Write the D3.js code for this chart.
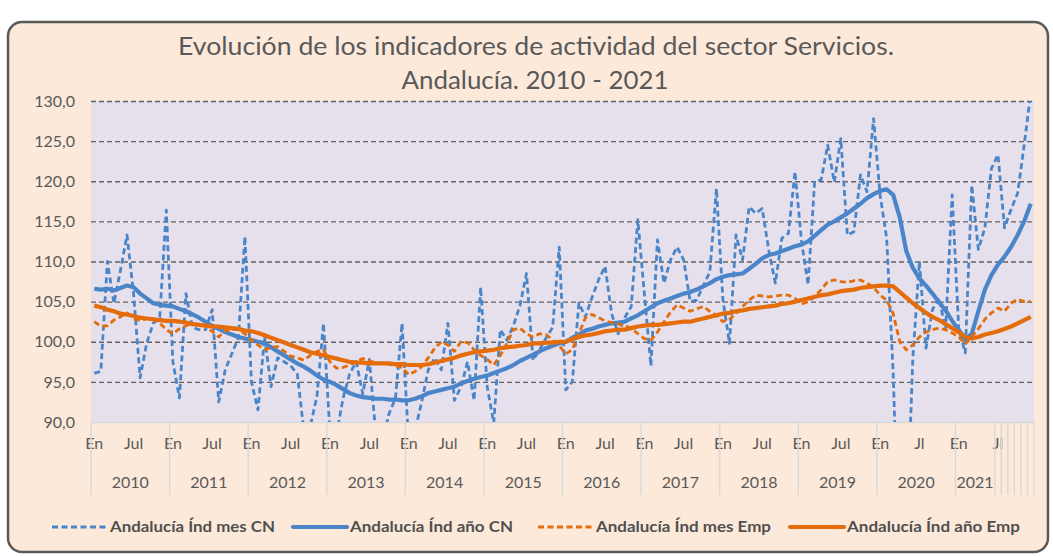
<!DOCTYPE html>
<html><head><meta charset="utf-8">
<script src="https://cdn.jsdelivr.net/npm/d3@7"></script>
<style>html,body{margin:0;padding:0;background:#fff;} svg{display:block;}</style>
</head><body>
<svg id="chart" width="1053" height="557"></svg>
<script>
// ---------- DATA ----------
const years = [2010, 2011, 2012, 2013, 2014, 2015, 2016, 2017, 2018, 2019, 2020, 2021];
const monthAbbr = ["En","Feb","Mar","Abr","May","Jun","Jul","Ago","Sep","Oct","Nov","Dic"];
const categories = years.flatMap(y => monthAbbr.map(m => m + " " + y));
const tickLabels = ["En","Jul","En","Jul","En","Jul","En","Jul","En","Jul","En","Jul",
                    "En","Jul","En","Jul","En","Jul","En","Jul","En","Jl","En","Jl"];
const groupLabels = ["2010","2011","2012","2013","2014","2015","2016","2017","2018","2019","2020","2021","","","","","",""];
const groupSizes  = [12,12,12,12,12,12,12,12,12,12,12,6,1,1,1,1,1,1];
const yTicks = [90, 95, 100, 105, 110, 115, 120, 125, 130];
const titleLines = ["Evolución de los indicadores de actividad del sector Servicios.", "Andalucía. 2010 - 2021"];
const seriesNames = ["Andalucía Índ mes CN", "Andalucía Índ año CN", "Andalucía Índ mes Emp", "Andalucía Índ año Emp"];

const mesCN = [
  96.1, 96.3, 110.0, 104.8, 108.9, 113.3, 106.0, 95.5, 99.8, 102.3, 103.1, 116.4,
  97.5, 93.0, 106.0, 101.8, 101.5, 101.5, 104.0, 92.5, 96.5, 98.5, 100.5, 113.1,
  95.0, 91.5, 100.6, 94.4, 98.0, 97.5, 97.0, 96.0, 89.0, 89.5, 93.2, 102.3,
  88.5, 88.5, 93.0, 96.0, 97.5, 93.5, 97.8, 88.5, 87.5, 91.0, 93.0, 102.3,
  87.5, 89.0, 92.5, 96.5, 98.0, 96.5, 102.3, 92.7, 94.4, 97.5, 92.7, 106.8,
  94.4, 89.9, 101.5, 100.2, 102.0, 104.5, 108.5, 97.7, 99.0, 100.5, 101.8, 111.8,
  94.0, 95.0, 104.8, 103.1, 105.5, 107.7, 109.4, 103.5, 101.0, 103.0, 104.4, 115.2,
  106.0, 97.0, 112.7, 107.3, 110.2, 111.8, 110.2, 105.0, 105.2, 107.0, 108.7, 119.1,
  105.2, 99.8, 113.3, 110.2, 116.8, 116.0, 116.6, 111.4, 107.3, 112.9, 113.5, 121.2,
  112.5, 107.1, 119.9, 120.2, 124.5, 119.9, 125.3, 113.3, 113.7, 120.8, 118.7, 127.8,
  118.3, 112.9, 96.0, 70.0, 75.0, 98.0, 110.0, 99.2, 104.0, 105.5, 101.5, 118.3,
  101.7, 98.6, 119.5, 111.5, 114.2, 121.6, 123.3, 114.2, 116.5, 118.5, 124.5, 131.0
];
const anioCN = [
  106.6, 106.5, 106.6, 106.4, 106.7, 107.0, 106.8, 106.0, 105.4, 104.8, 104.6, 104.5,
  104.4, 104.1, 103.8, 103.4, 103.0, 102.5, 102.0, 101.6, 101.2, 100.9, 100.6, 100.4,
  100.2, 100.0, 99.8, 99.3, 98.8, 98.3, 97.8, 97.3, 96.9, 96.4, 95.8, 95.3,
  95.0, 94.6, 94.1, 93.6, 93.3, 93.1, 93.0, 92.9, 92.9, 92.8, 92.8, 92.7,
  92.7, 92.9, 93.2, 93.6, 93.8, 94.0, 94.2, 94.4, 94.8, 95.1, 95.4, 95.6,
  95.8, 96.1, 96.4, 96.7, 97.1, 97.6, 98.0, 98.4, 98.8, 99.2, 99.5, 99.8,
  100.0, 100.5, 100.9, 101.4, 101.6, 101.9, 102.1, 102.3, 102.4, 102.5, 102.9, 103.3,
  103.8, 104.3, 104.8, 105.1, 105.4, 105.7, 106.0, 106.2, 106.5, 106.9, 107.3, 107.8,
  108.1, 108.3, 108.4, 108.5, 109.1, 109.7, 110.4, 110.8, 111.0, 111.3, 111.6, 111.9,
  112.1, 112.5, 113.2, 113.9, 114.6, 115.0, 115.5, 116.0, 116.6, 117.2, 117.9, 118.4,
  118.8, 119.0, 118.3, 115.5, 111.3, 109.2, 107.9, 107.0, 106.0, 104.9, 103.9, 102.6,
  101.5, 100.3, 101.0, 103.8, 106.5, 108.3, 109.6, 110.6, 111.8, 113.3, 115.0, 117.2
];
const mesEmp = [
  102.5, 101.9, 102.0, 102.7, 103.1, 103.6, 102.9, 102.6, 102.9, 102.8, 102.3, 101.5,
  101.0, 101.6, 102.0, 102.3, 102.1, 101.9, 101.3, 100.6, 101.4, 101.5, 101.5, 101.0,
  100.2, 99.6, 99.0, 99.3, 99.4, 98.8, 98.2, 98.0, 97.7, 98.3, 98.8, 99.0,
  97.5, 96.7, 96.8, 97.1, 97.6, 97.9, 97.6, 97.4, 97.3, 97.2, 97.0, 96.8,
  95.9, 96.3, 96.9, 98.0, 99.2, 100.0, 99.6, 98.8, 100.0, 99.9, 99.0, 98.3,
  97.8, 97.1, 98.3, 99.8, 101.5, 101.7, 101.0, 100.6, 101.0, 100.9, 100.2, 99.5,
  98.5, 99.0, 101.0, 103.0, 103.4, 103.0, 102.6, 102.4, 102.2, 102.0, 101.7, 101.0,
  100.4, 100.2, 101.2, 102.5, 103.7, 104.6, 104.2, 103.8, 104.1, 104.4, 103.8, 103.3,
  102.5, 102.8, 103.5, 104.4, 105.2, 105.8, 105.7, 105.6, 105.7, 105.8, 105.8, 105.4,
  104.7, 105.0, 105.6, 106.5, 107.5, 107.7, 107.5, 107.4, 107.6, 107.7, 107.3, 106.8,
  105.8, 105.2, 103.5, 100.0, 99.0, 99.6, 100.6, 101.2, 101.5, 101.7, 101.5, 101.1,
  100.6, 99.7, 100.6, 101.6, 102.8, 103.6, 104.2, 103.8, 104.8, 105.3, 105.0, 105.0
];
const anioEmp = [
  104.5, 104.3, 104.0, 103.8, 103.5, 103.4, 103.2, 103.0, 102.9, 102.8, 102.7, 102.6,
  102.6, 102.5, 102.4, 102.2, 102.1, 102.0, 101.9, 101.9, 101.8, 101.7, 101.6, 101.4,
  101.3, 101.1, 100.8, 100.5, 100.2, 99.9, 99.6, 99.3, 99.0, 98.7, 98.5, 98.3,
  98.1, 97.9, 97.7, 97.5, 97.4, 97.4, 97.3, 97.3, 97.3, 97.3, 97.2, 97.2,
  97.1, 97.1, 97.1, 97.2, 97.4, 97.6, 97.8, 98.0, 98.3, 98.5, 98.7, 98.8,
  98.9, 99.0, 99.2, 99.3, 99.4, 99.5, 99.6, 99.8, 99.8, 99.9, 99.9, 100.0,
  100.0, 100.3, 100.6, 100.8, 100.9, 101.1, 101.3, 101.4, 101.5, 101.5, 101.7, 101.9,
  102.0, 102.1, 102.1, 102.2, 102.3, 102.4, 102.5, 102.5, 102.7, 102.9, 103.1, 103.3,
  103.5, 103.6, 103.8, 103.9, 104.1, 104.2, 104.3, 104.4, 104.5, 104.7, 104.8, 105.0,
  105.2, 105.4, 105.6, 105.8, 105.9, 106.1, 106.3, 106.4, 106.5, 106.7, 106.8, 106.9,
  107.0, 107.0, 106.9, 106.2, 105.5, 104.8, 104.2, 103.6, 103.1, 102.7, 102.2, 101.7,
  101.2, 100.6, 100.4, 100.6, 100.9, 101.1, 101.3, 101.6, 101.9, 102.3, 102.7, 103.1
];

// ---------- STYLE ----------
const FONT = "Lato, 'Open Sans', 'DejaVu Sans', sans-serif";
const TXT = "#595959";
const BLUE = "#4A85C9";
const ORANGE = "#E46C0A";

const svg = d3.select("#chart");
const plot = {left: 91, right: 1034, top: 101, bottom: 422};

// background frame
svg.append("rect").attr("x", 8).attr("y", 22).attr("width", 1040).attr("height", 530)
  .attr("rx", 14).attr("ry", 14)
  .attr("fill", "#FDE9D9").attr("stroke", "#595959").attr("stroke-width", 2.5);

// title
const title = svg.append("g").attr("font-family", FONT).attr("fill", TXT).attr("text-anchor", "middle");
title.append("text").attr("x", 536).attr("y", 55).attr("font-size", 25)
  .attr("textLength", 716).attr("lengthAdjust", "spacingAndGlyphs").text(titleLines[0]);
title.append("text").attr("x", 535).attr("y", 89).attr("font-size", 25)
  .attr("textLength", 267).attr("lengthAdjust", "spacingAndGlyphs").text(titleLines[1]);

// scales
const x = d3.scaleBand().domain(categories).range([plot.left, plot.right]).paddingInner(0).paddingOuter(0);
const xc = c => x(c) + x.bandwidth() / 2;
const y = d3.scaleLinear().domain([90, 130]).range([plot.bottom, plot.top]);

// plot area
svg.append("rect").attr("x", plot.left).attr("y", plot.top)
  .attr("width", plot.right - plot.left).attr("height", plot.bottom - plot.top)
  .attr("fill", "#E6E0EC");

// y axis + gridlines
const yAxis = svg.append("g").attr("transform", `translate(${plot.left},0)`)
  .call(d3.axisLeft(y).tickValues(yTicks).tickSize(-(plot.right - plot.left)).tickPadding(16)
    .tickFormat(d => d3.format(".1f")(d).replace(".", ",")));
yAxis.select(".domain").remove();
yAxis.selectAll(".tick line")
  .attr("stroke", d => d === 90 ? "#D9D9D9" : "#626262")
  .attr("stroke-width", d => d === 90 ? 1.5 : 1.3)
  .attr("stroke-dasharray", d => d === 90 ? null : "5,3");
yAxis.selectAll(".tick text").attr("font-family", FONT).attr("font-size", 16).attr("fill", TXT);

// x axis month labels
const tickCats = categories.filter((c, i) => i % 6 === 0);
const xAxis = svg.append("g").attr("transform", `translate(0,${plot.bottom})`)
  .call(d3.axisBottom(x).tickValues(tickCats).tickSize(0).tickPadding(16)
    .tickFormat((c, i) => tickLabels[i]));
xAxis.select(".domain").remove();
xAxis.selectAll(".tick text").attr("font-family", FONT).attr("font-size", 16).attr("fill", TXT);

// year groups with separators
let start = 0;
const sepG = svg.append("g");
groupSizes.forEach((n, gi) => {
  const x0 = x(categories[start]);
  const x1 = start + n < categories.length ? x(categories[start + n]) : plot.right;
  sepG.append("line").attr("x1", x0).attr("x2", x0).attr("y1", plot.bottom).attr("y2", 495)
    .attr("stroke", "#D9D9D9").attr("stroke-width", 1.5);
  if (groupLabels[gi]) {
    sepG.append("text").attr("x", (x0 + x1) / 2).attr("y", 488).attr("text-anchor", "middle")
      .attr("font-family", FONT).attr("font-size", 16).attr("fill", TXT).text(groupLabels[gi]);
  }
  start += n;
});
sepG.append("line").attr("x1", plot.right).attr("x2", plot.right).attr("y1", plot.bottom).attr("y2", 495)
  .attr("stroke", "#D9D9D9").attr("stroke-width", 1.5);

// clip
svg.append("clipPath").attr("id", "plotclip").append("rect")
  .attr("x", plot.left).attr("y", plot.top).attr("width", plot.right - plot.left).attr("height", plot.bottom - plot.top);

const line = d3.line().x((d, i) => xc(categories[i])).y(d => y(d));
const series = [
  {name: seriesNames[0], values: mesCN,  color: BLUE,   width: 2.8, dash: "6,3.5"},
  {name: seriesNames[1], values: anioCN, color: BLUE,   width: 4.2, dash: null},
  {name: seriesNames[2], values: mesEmp, color: ORANGE, width: 2.8, dash: "6,3.5"},
  {name: seriesNames[3], values: anioEmp, color: ORANGE, width: 4.2, dash: null}
];
const lines = svg.append("g").attr("clip-path", "url(#plotclip)");
series.forEach(s => {
  lines.append("path").datum(s.values).attr("d", line)
    .attr("fill", "none").attr("stroke", s.color).attr("stroke-width", s.width)
    .attr("stroke-dasharray", s.dash).attr("stroke-linejoin", "round");
});

// legend
const legendPos = [
  {lx: 52, tx: 110, tl: 165},
  {lx: 293, tx: 350, tl: 163},
  {lx: 538, tx: 596, tl: 175},
  {lx: 790, tx: 847, tl: 173}
];
const leg = svg.append("g");
series.forEach((s, i) => {
  const p = legendPos[i];
  leg.append("line").attr("x1", p.lx).attr("x2", p.lx + 54).attr("y1", 527).attr("y2", 527)
    .attr("stroke", s.color).attr("stroke-width", s.width).attr("stroke-dasharray", s.dash)
    .attr("stroke-linecap", s.dash ? "butt" : "round");
  leg.append("text").attr("x", p.tx).attr("y", 532).attr("font-family", FONT)
    .attr("font-size", 15).attr("font-weight", "bold").attr("fill", "#505050")
    .attr("textLength", p.tl).attr("lengthAdjust", "spacingAndGlyphs").text(s.name);
});
</script>
</body></html>
